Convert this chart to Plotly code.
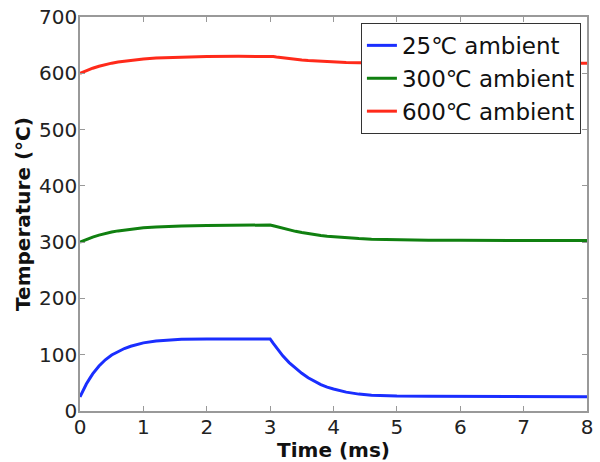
import plotly.graph_objects as go

time_ms = [0, 0.05, 0.1, 0.15, 0.2, 0.3, 0.4, 0.5, 0.6, 0.7, 0.8, 0.9, 1.0, 1.2, 1.4, 1.6, 2.0, 2.5, 3.0,
           3.05, 3.1, 3.2, 3.3, 3.4, 3.5, 3.6, 3.7, 3.8, 3.9, 4.0, 4.2, 4.4, 4.6, 4.8, 5.0, 5.5, 6.0, 7.0, 8.0]

temp_25 = [25, 37, 48, 57, 66, 80, 91, 99.5, 106, 111, 115, 118.5, 121, 124.5, 126.5, 127.5, 128, 128, 128,
           120, 112, 98, 86, 76, 67, 59, 52.5, 47, 42.5, 39, 33.5, 30, 28, 27, 26.5, 26, 25.8, 25.6, 25.5]

temp_300 = [300, 302.5, 305, 307, 309, 312.5, 315.5, 318, 320, 321.7, 323.2, 324.4, 325.5, 327, 328, 328.8, 329.7, 330.2, 330.4,
            329, 327.5, 324.5, 321.7, 319.2, 317, 315, 313.3, 311.8, 310.5, 309.4, 307.6, 306.3, 305.3, 304.6, 304.1, 303.5, 303.2, 303, 303]

temp_600 = [600, 602.5, 605, 607, 609, 612.5, 615.5, 618, 620, 621.7, 623.2, 624.4, 625.5, 627, 628, 628.8, 629.7, 630.2, 630.4,
            629.8, 629, 627.5, 626.1, 624.9, 623.8, 622.8, 622, 621.3, 620.7, 620.2, 619.3, 618.8, 618.5, 618.3, 618.2, 618, 618, 618, 618]

series_names = ["25\u2103 ambient", "300\u2103 ambient", "600\u2103 ambient"]
series_colors = ["#1a2eff", "#108010", "#ff2a1a"]

fig = go.Figure()
for name, ys, col in zip(series_names, [temp_25, temp_300, temp_600], series_colors):
    fig.add_trace(go.Scatter(x=time_ms, y=ys, mode="lines", name=name,
                             line=dict(color=col, width=3, shape="linear")))

axis_common = dict(showgrid=False, zeroline=False, showline=True, linecolor="#999999",
                   linewidth=1.5, mirror="allticks", ticks="inside", ticklen=5,
                   tickcolor="#999999", automargin=False,
                   tickfont=dict(family="DejaVu Sans", size=20, color="#222222"))

fig.update_layout(
    width=600, height=462,
    margin=dict(l=80, r=13, t=17, b=51),
    paper_bgcolor="white", plot_bgcolor="white",
    font=dict(family="DejaVu Sans", color="#222222"),
    xaxis=dict(range=[0, 8], dtick=1, ticklabelstandoff=-3,
               title=dict(text="<b>Time (ms)</b>", font=dict(size=20, family="DejaVu Sans", color="#111111"), standoff=8),
               **axis_common),
    yaxis=dict(range=[0, 700], dtick=100, ticklabelstandoff=-3,
               title=dict(text="<b>Temperature (\u00b0C)</b>", font=dict(size=20, family="DejaVu Sans", color="#111111"), standoff=3),
               **axis_common),
    legend=dict(x=0.988, y=0.985, xanchor="right", yanchor="top",
                bgcolor="white", bordercolor="#333333", borderwidth=1,
                font=dict(family="DejaVu Sans", size=23, color="#111111"),
                tracegroupgap=0, itemwidth=30),
    showlegend=True,
)

fig.write_html("out.html")
